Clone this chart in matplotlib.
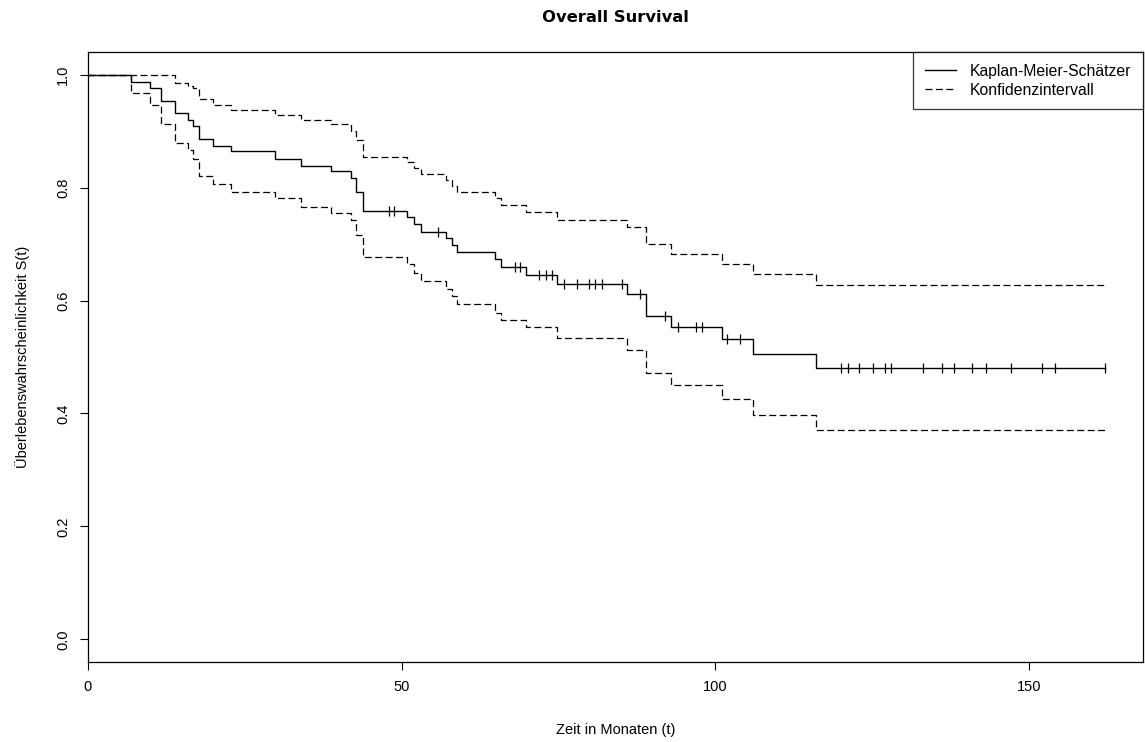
import matplotlib
matplotlib.use("Agg")
import matplotlib.pyplot as plt
import numpy as np

plt.rcParams['font.family'] = ['Liberation Sans', 'DejaVu Sans']
plt.rcParams['lines.scale_dashes'] = False

# Kaplan-Meier estimate (event times, survival, confidence bounds)
times = [0, 6.8, 9.9, 11.7, 13.9, 15.9, 16.8, 17.7, 19.9, 22.8, 29.8, 33.9,
         38.8, 42.0, 42.8, 43.9, 50.8, 52.0, 53.1, 57.0, 58.1, 58.9, 64.9,
         65.8, 69.9, 74.8, 85.9, 89.0, 92.9, 101.1, 106.1, 116.1]
surv = [1.0, 0.987, 0.976, 0.953, 0.932, 0.920, 0.909, 0.886, 0.874, 0.864,
        0.851, 0.839, 0.829, 0.817, 0.793, 0.759, 0.748, 0.735, 0.722, 0.711,
        0.699, 0.686, 0.674, 0.660, 0.646, 0.630, 0.612, 0.573, 0.553, 0.532,
        0.506, 0.480]
upper = [1.0, 1.0, 1.0, 1.0, 0.986, 0.980, 0.976, 0.956, 0.947, 0.937,
         0.929, 0.920, 0.912, 0.900, 0.884, 0.854, 0.845, 0.835, 0.824, 0.814,
         0.803, 0.792, 0.781, 0.769, 0.757, 0.743, 0.730, 0.700, 0.683, 0.665,
         0.647, 0.627]
lower = [1.0, 0.968, 0.947, 0.912, 0.879, 0.866, 0.851, 0.821, 0.807, 0.793,
         0.782, 0.766, 0.755, 0.742, 0.716, 0.677, 0.664, 0.649, 0.634, 0.621,
         0.608, 0.593, 0.578, 0.566, 0.553, 0.534, 0.513, 0.471, 0.450, 0.425,
         0.397, 0.370]

# censored observations
censored = [48.0, 48.8, 55.8, 68.0, 68.9, 71.9, 73.0, 74.0, 75.9, 77.9, 79.9,
            80.9, 81.9, 85.1, 88.0, 92.0, 94.0, 96.9, 97.9, 101.9, 104.0,
            120.0, 121.1, 123.0, 125.1, 127.1, 128.0, 133.2, 136.1, 138.1,
            141.0, 143.1, 147.1, 152.1, 154.1, 162.1]

t_end = max(censored)
t = np.array(times + [t_end])
s = np.array(surv + [surv[-1]])
u = np.array(upper + [upper[-1]])
l = np.array(lower + [lower[-1]])

fig = plt.figure(figsize=(11.45, 7.42), dpi=100)
ax = fig.add_axes([88/1145, 1-662/742, 1055/1145, 610/742])

ax.step(t, s, where='post', color='black', lw=1.0, label='Kaplan-Meier-Schätzer')
ax.step(t, u, where='post', color='black', lw=0.9, dashes=(5, 2.5),
        label='Konfidenzintervall')
ax.step(t, l, where='post', color='black', lw=0.9, dashes=(5, 2.5))

# censor marks on the survival curve
idx = np.searchsorted(times, censored, side='right') - 1
cens_y = np.array(surv)[idx]
ax.plot(censored, cens_y, linestyle='none', marker='|', markersize=7.5,
        markeredgewidth=0.9, color='black')

ax.set_xlim(0, 168.2)
ax.set_ylim(-0.04, 1.04)
ax.set_xticks([0, 50, 100, 150])
ax.set_yticks([0.0, 0.2, 0.4, 0.6, 0.8, 1.0])
ax.set_yticklabels(['0.0', '0.2', '0.4', '0.6', '0.8', '1.0'], rotation=90,
                   va='center')
ax.tick_params(direction='out', length=6, width=0.8, labelsize=10.5, pad=7)
for sp in ax.spines.values():
    sp.set_linewidth(0.9)

ax.set_xlabel('Zeit in Monaten (t)', fontsize=10.5, labelpad=21)
ax.set_ylabel('Überlebenswahrscheinlichkeit S(t)', fontsize=10.5, labelpad=19)
fig.text(615/1145, 1-17/742, 'Overall Survival', ha='center', va='center',
         fontsize=11.8, fontweight='bold', family='DejaVu Sans')

leg = ax.legend(loc='upper right', fontsize=11.3, frameon=True, fancybox=False,
                borderaxespad=0, handlelength=2.0, handletextpad=0.85,
                labelspacing=0.25, borderpad=0.75)
leg.get_frame().set_edgecolor('black')
leg.get_frame().set_linewidth(0.9)

fig.savefig('out.png', dpi=100)
